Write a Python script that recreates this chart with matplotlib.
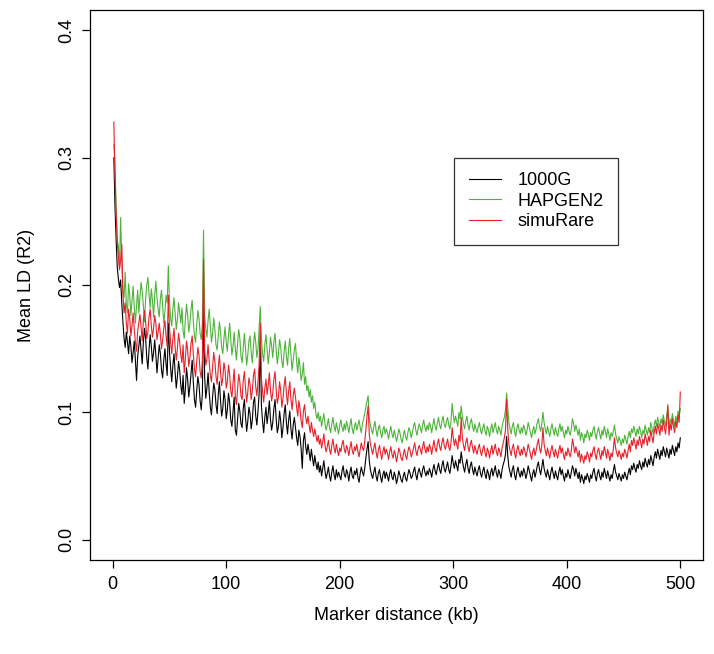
import numpy as np
import matplotlib
matplotlib.use("Agg")
import matplotlib.pyplot as plt

plt.rcParams["font.family"] = ["Liberation Sans", "DejaVu Sans"]

# marker distance in kb (1 kb bins)
distance_kb = np.arange(1, 501)

# mean LD (R2), stored in thousandths
ld_1000g = [
    300,262,236,214,205,198,204,186,171,158,151,163,155,146,160,152,139,147,156,141,
    125,144,152,160,149,138,155,166,158,143,134,149,161,152,140,147,157,145,131,142,
    153,146,133,127,141,150,138,129,170,148,135,124,137,146,131,119,128,140,133,121,
    114,129,107,118,135,126,112,120,131,141,124,110,104,117,128,122,109,102,115,188,
    128,111,119,131,116,104,98,112,123,118,106,99,114,124,109,97,103,117,110,95,
    102,115,108,94,89,100,112,86,82,95,107,101,91,88,103,110,96,85,93,104,
    99,87,94,108,112,97,90,101,115,156,105,93,84,96,104,91,99,109,94,86,
    92,103,110,95,84,89,101,93,80,88,99,106,92,83,94,101,87,79,90,96,
    88,80,74,86,81,71,56,78,84,73,67,75,69,62,71,64,58,66,60,55,
    61,53,58,50,56,62,54,48,52,57,50,46,53,58,51,47,55,49,53,50,
    47,54,58,51,49,55,52,46,53,57,50,48,54,51,56,49,45,52,57,53,
    50,56,64,71,77,62,55,51,48,53,57,50,46,52,55,49,45,51,54,48,
    53,50,46,52,55,49,47,53,50,44,48,54,51,47,45,50,53,48,46,51,
    55,52,48,50,54,57,51,47,53,56,52,49,55,58,53,50,54,51,56,53,
    49,55,59,54,51,56,60,55,52,58,62,56,53,57,61,55,52,58,66,60,
    56,62,58,54,63,60,69,62,57,53,59,63,56,52,58,61,55,51,57,53,
    50,55,58,52,49,54,57,51,48,55,52,47,53,56,50,54,58,52,49,55,
    52,48,55,59,62,67,81,66,57,53,49,55,58,51,47,53,57,52,49,54,
    50,56,53,48,52,58,54,50,46,52,55,49,53,58,61,55,51,57,63,56,
    52,49,55,51,47,53,57,52,48,54,50,47,53,57,51,55,50,46,52,49,
    55,51,48,53,58,55,50,56,52,48,53,45,51,48,44,50,47,52,49,45,
    51,48,53,56,50,46,52,55,50,47,53,49,56,52,48,54,50,46,51,48,
    54,59,53,50,47,52,49,46,51,48,53,50,47,52,56,51,58,55,60,56,
    53,59,56,62,58,55,61,57,64,60,57,63,59,66,62,58,65,69,64,71,
    67,63,70,66,73,69,65,72,68,64,71,67,74,70,66,73,69,76,72,80,
]

ld_hapgen2 = [
    310,296,262,236,230,214,253,218,196,190,210,185,178,201,192,176,188,199,183,170,
    184,196,178,190,202,195,184,171,189,200,206,193,182,197,188,175,192,203,190,181,
    175,189,196,183,170,179,192,186,215,188,174,168,181,190,177,165,173,186,179,170,
    182,164,158,173,185,176,163,170,181,188,172,160,155,169,180,174,162,157,171,243,
    176,166,159,172,181,168,155,162,174,165,153,149,160,171,163,151,146,158,167,155,
    148,161,170,157,145,152,163,150,141,154,165,158,144,139,151,162,149,137,145,156,
    160,147,139,152,163,155,143,150,166,183,158,146,140,153,161,150,138,147,159,152,
    143,155,162,149,138,146,157,151,140,135,148,156,144,137,150,158,145,133,141,149,
    154,140,131,143,136,125,130,139,122,128,117,121,112,118,108,113,103,108,99,95,
    100,93,97,89,94,99,91,86,90,95,88,84,91,96,89,85,92,87,83,90,
    94,88,85,91,86,93,89,84,90,95,87,83,89,92,86,90,94,88,84,91,
    95,99,104,109,113,96,90,86,83,89,93,86,81,87,90,84,80,86,89,83,
    87,84,79,85,89,83,80,86,82,77,81,87,84,79,76,82,86,81,78,84,
    88,85,80,84,89,92,86,82,87,91,88,84,90,94,88,85,90,86,92,89,
    84,90,95,89,86,92,96,90,87,93,97,91,88,93,96,90,87,93,107,98,
    92,97,93,89,100,95,105,97,91,87,93,97,90,86,92,95,89,85,91,87,
    84,89,92,86,83,88,91,85,82,89,86,81,87,91,84,88,92,86,83,89,
    86,82,89,93,96,102,115,103,92,87,83,89,92,85,81,87,91,86,83,88,
    84,90,87,82,86,92,88,84,80,86,89,83,87,92,95,89,85,91,100,92,
    87,83,89,85,81,87,91,86,82,88,84,81,87,91,85,89,84,80,86,83,
    89,85,82,87,95,91,85,90,86,82,87,78,84,81,76,83,80,86,83,78,
    84,81,86,89,83,79,85,88,83,79,86,82,89,85,80,87,83,78,84,81,
    85,90,83,79,76,81,78,74,79,76,82,79,75,81,85,80,87,84,89,85,
    81,87,83,89,85,80,86,83,90,86,82,88,84,92,88,83,90,94,89,96,
    92,88,95,91,98,93,89,97,104,87,95,91,99,94,89,97,92,101,96,103,
]

ld_simurare = [
    328,286,256,234,222,212,220,232,192,178,186,170,162,181,174,160,168,178,165,155,
    148,164,170,177,166,156,172,180,171,158,163,175,181,168,159,166,176,170,157,163,
    170,161,150,157,166,172,160,152,192,167,155,146,158,166,151,141,150,162,155,145,
    139,153,131,142,156,149,136,143,154,160,146,134,128,140,151,145,132,127,141,220,
    150,137,142,153,140,129,124,136,147,140,128,122,135,145,132,121,127,139,133,119,
    124,137,130,117,112,123,134,113,106,118,130,124,113,110,125,132,119,108,116,127,
    122,110,117,129,134,120,113,124,138,170,127,116,108,119,126,114,121,131,117,109,
    115,126,132,118,107,112,124,117,104,111,121,128,115,106,117,124,110,102,113,119,
    112,104,97,109,103,93,88,101,106,96,91,97,90,84,92,86,81,87,82,77,
    82,75,79,72,77,83,74,69,73,78,71,67,74,79,72,68,75,70,66,72,
    69,75,78,71,68,74,71,66,72,77,70,67,73,70,75,69,65,71,76,72,
    70,77,86,97,105,83,75,71,67,72,76,69,64,70,74,68,63,69,73,67,
    71,68,63,69,73,67,64,70,67,61,66,72,69,64,62,67,71,66,63,69,
    73,70,65,68,72,76,70,66,71,74,71,67,73,77,71,68,73,69,75,72,
    67,73,78,72,69,75,79,73,70,76,80,74,71,75,79,73,70,76,88,80,
    74,79,75,71,82,77,96,80,74,70,76,80,73,69,75,78,72,68,74,70,
    67,72,75,69,66,71,74,68,65,72,69,64,70,74,67,71,75,69,66,72,
    69,65,72,76,80,86,110,87,75,70,66,72,75,68,64,70,74,69,66,71,
    67,73,70,65,69,75,71,67,63,69,72,66,70,75,79,72,68,74,88,75,
    70,66,72,68,64,70,74,69,65,71,67,64,70,74,68,72,67,63,69,66,
    72,68,65,70,79,74,68,73,69,65,70,61,67,64,60,66,63,69,66,61,
    68,65,70,73,67,63,69,72,67,63,70,66,73,69,64,71,67,62,68,65,
    71,80,72,68,65,70,67,63,68,65,71,68,64,70,75,69,78,74,80,76,
    71,78,74,81,77,72,79,75,83,79,74,81,77,86,81,76,84,89,83,91,
    87,82,90,85,94,88,83,92,106,82,91,86,95,89,84,93,88,98,92,116,
]

series_names = ["1000G", "HAPGEN2", "simuRare"]
series_colors = ["black", "#4DB33A", "#E8202A"]

fig = plt.figure(figsize=(7.14, 6.54), dpi=100)
ax = fig.add_axes([90/714, 1 - 560/654, (703 - 90)/714, (560 - 10)/654])

for vals, name, col in zip([ld_1000g, ld_hapgen2, ld_simurare], series_names, series_colors):
    ax.plot(distance_kb, np.array(vals) / 1000.0, color=col, linewidth=0.8, label=name)

# R style axes: 4% padding, outward ticks
ax.set_xlim(-20, 520)
ax.set_ylim(-0.016, 0.416)
ax.set_xticks([0, 100, 200, 300, 400, 500])
ax.set_yticks([0.0, 0.1, 0.2, 0.3, 0.4])
ax.set_yticklabels(["0.0", "0.1", "0.2", "0.3", "0.4"], rotation=90, va="center")
ax.tick_params(direction="out", length=5.5, width=0.9, labelsize=13)
ax.tick_params(axis="x", pad=6)
ax.tick_params(axis="y", pad=5)
for sp in ax.spines.values():
    sp.set_linewidth(0.9)

ax.set_xlabel("Marker distance (kb)", fontsize=13, labelpad=10)
ax.set_ylabel("Mean LD (R2)", fontsize=13, labelpad=17)

leg = ax.legend(loc="upper left", bbox_to_anchor=(301, 0.300), bbox_transform=ax.transData,
                fontsize=13, frameon=True, fancybox=False, edgecolor="black",
                handlelength=1.8, handletextpad=0.9, labelspacing=0.2,
                borderpad=0.8, borderaxespad=0)
leg.get_frame().set_linewidth(0.9)

fig.savefig("out.png", dpi=100)
